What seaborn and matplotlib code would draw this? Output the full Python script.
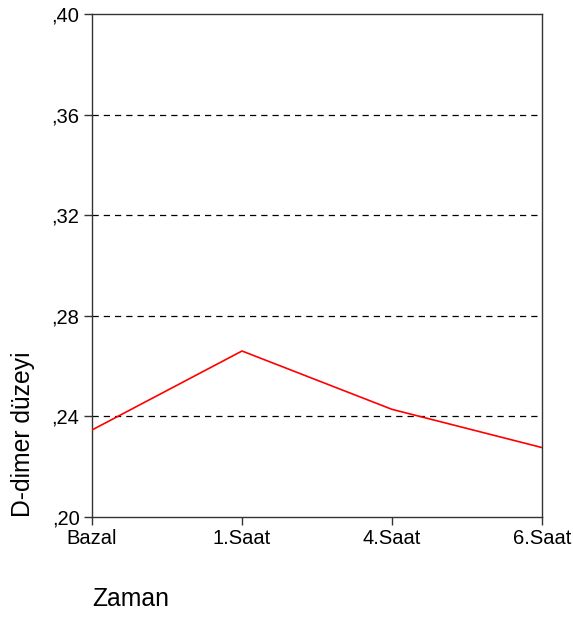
import pandas as pd
import numpy as np
import matplotlib
matplotlib.use("Agg")
import matplotlib.pyplot as plt
import seaborn as sns

# values
zaman = ["Bazal", "1.Saat", "4.Saat", "6.Saat"]
ddimer = [0.2346, 0.2660, 0.2428, 0.2276]
y_ticks = [0.20, 0.24, 0.28, 0.32, 0.36, 0.40]
y_tick_labels = [",20", ",24", ",28", ",32", ",36", ",40"]

df = pd.DataFrame({"Zaman": zaman, "D-dimer düzeyi": ddimer})

sns.set_style("white")
plt.rcParams['font.family'] = ['Liberation Sans', 'DejaVu Sans']
plt.rcParams['text.color'] = 'black'
plt.rcParams['axes.labelcolor'] = 'black'
plt.rcParams['xtick.color'] = 'black'
plt.rcParams['ytick.color'] = 'black'

fig = plt.figure(figsize=(5.73, 6.17), dpi=100)
ax = fig.add_axes([0.1606, 0.1621, 0.7853, 0.8152])

for y in y_ticks[1:-1]:
    ax.axhline(y, color='black', lw=0.9, ls=(0, (5, 4)), zorder=1)

sns.lineplot(data=df, x="Zaman", y="D-dimer düzeyi", color='red', lw=1.2, ax=ax, zorder=3)

ax.set_xlim(0, len(zaman) - 1)
ax.set_ylim(0.20, 0.40)
ax.set_yticks(y_ticks)
ax.set_yticklabels(y_tick_labels)
ax.set_xticks(range(len(zaman)))
ax.set_xticklabels(zaman)
ax.tick_params(axis='both', which='major', length=6, width=1, color='#333333',
               labelsize=14.5, direction='out', pad=3, left=True, bottom=True,
               labelcolor='black')

for s in ax.spines.values():
    s.set_color('#333333')
    s.set_linewidth(1)
    s.set_visible(True)

ax.set_xlabel("Zaman", fontsize=17.8, loc='left', labelpad=28, color='black')
ax.set_ylabel("D-dimer düzeyi", fontsize=17.8, loc='bottom', labelpad=12, color='black')

fig.savefig("out.png", dpi=100)
